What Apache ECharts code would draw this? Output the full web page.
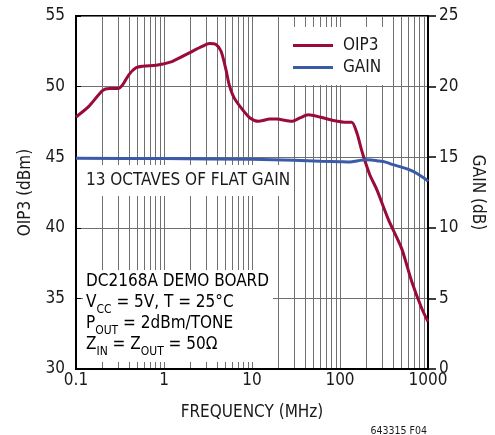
<!DOCTYPE html>
<html>
<head>
<meta charset="utf-8">
<script src="https://cdn.jsdelivr.net/npm/echarts@6/dist/echarts.min.js"></script>
<style>
  html, body { margin: 0; padding: 0; background: #fff; }
  #chart { width: 495px; height: 435px; }
</style>
</head>
<body>
<div id="chart"></div>
<script>
// ---- data ----
const oip3Freq = [0.1, 0.14, 0.2, 0.24, 0.3, 0.34, 0.4, 0.48, 0.57, 0.81, 0.97, 1.25, 1.94, 2.75, 3.28, 3.9, 4.45, 5.06, 5.5, 6.27, 7.8, 9.5, 11.8, 16, 19, 28.4, 35, 43.6, 58.8, 84, 119, 136, 156, 176, 193, 218, 262, 354, 500, 653, 848, 1000];
const oip3Val  = [47.85, 48.6, 49.72, 49.86, 49.86, 50.14, 50.85, 51.33, 51.44, 51.51, 51.6, 51.79, 52.39, 52.86, 53.05, 52.98, 52.5, 51.2, 50.14, 49.2, 48.37, 47.78, 47.54, 47.7, 47.7, 47.54, 47.78, 48.0, 47.85, 47.6, 47.47, 47.47, 46.7, 45.5, 44.7, 43.76, 42.7, 40.6, 38.56, 36.2, 34.3, 33.35];
const gainFreq = [0.1, 1, 10, 30, 60, 100, 130, 160, 193, 230, 262, 330, 400, 500, 620, 750, 960, 1000];
const gainVal  = [14.92, 14.9, 14.85, 14.78, 14.72, 14.68, 14.66, 14.75, 14.82, 14.8, 14.75, 14.65, 14.47, 14.3, 14.1, 13.85, 13.4, 13.28];
const minorGridFreq = [0.2, 0.3, 0.4, 0.5, 0.6, 0.7, 0.8, 0.9, 2, 3, 4, 5, 6, 7, 8, 9, 20, 30, 40, 50, 60, 70, 80, 90, 200, 300, 400, 500, 600, 700, 800, 900];
const xTickLabels = ['0.1', '1', '10', '100', '1000'];
const oip3Axis = { min: 30, max: 55, interval: 5 };
const gainAxis = { min: 0, max: 25, interval: 5 };

const FONT = "'DejaVu Sans Condensed', 'Liberation Sans Narrow', sans-serif";
const FS = 17;
const GRID = '#707070';
const RED = '#9a0b3b';
const BLUE = '#3b5ba9';
const TXT = '#1a1a1a';

const oip3Data = oip3Freq.map((f, i) => [f, oip3Val[i]]);
const gainData = gainFreq.map((f, i) => [f, gainVal[i]]);

const chart = echarts.init(document.getElementById('chart'), null, { renderer: 'canvas' });

const mainTok = { fontSize: FS, fontFamily: FONT, color: TXT, lineHeight: 22 };
const subTok = { fontSize: 12, fontFamily: FONT, color: TXT, lineHeight: 10, padding: [14, 0, 0, 0] };
function richLine(text, y) {
  return {
    type: 'text', x: 86, y: y, z: 3,
    style: {
      text: text, rich: { m: mainTok, s: subTok },
      verticalAlign: 'middle', textVerticalAlign: 'middle', align: 'left', textAlign: 'left'
    }
  };
}

chart.setOption({
  animation: false,
  textStyle: { fontFamily: FONT },
  grid: { left: 76, top: 16, width: 352, height: 353, show: true, borderColor: '#000', borderWidth: 2, backgroundColor: 'transparent' },
  legend: {
    data: ['OIP3', 'GAIN'],
    orient: 'vertical',
    left: 281, top: 27,
    backgroundColor: '#fff',
    padding: [9, 10, 8, 12],
    icon: 'rect',
    itemWidth: 40, itemHeight: 3, itemGap: 3,
    textStyle: { fontSize: FS, fontFamily: FONT, color: TXT, lineHeight: 19, padding: [0, 0, 0, 5] },
    selectedMode: false
  },
  xAxis: {
    type: 'log', logBase: 10, min: 0.1, max: 1000,
    axisLine: { show: true, onZero: false, lineStyle: { color: '#000', width: 2 } },
    axisTick: { show: false },
    splitLine: { show: true, lineStyle: { color: GRID, width: 1 } },
    axisLabel: {
      fontSize: FS, fontFamily: FONT, color: TXT, margin: 3,
      showMinLabel: true, showMaxLabel: true,
      formatter: function (v) {
        const e = Math.round(Math.log10(v));
        return xTickLabels[e + 1] !== undefined ? xTickLabels[e + 1] : '';
      }
    },
    name: 'FREQUENCY (MHz)', nameLocation: 'middle', nameGap: 35,
    nameTextStyle: { fontSize: FS, fontFamily: FONT, color: TXT }
  },
  yAxis: [
    {
      type: 'value', position: 'left', min: oip3Axis.min, max: oip3Axis.max, interval: oip3Axis.interval,
      axisLine: { show: true, lineStyle: { color: '#000', width: 2 } },
      axisTick: { show: true, inside: true, length: 5, lineStyle: { color: '#000' } },
      splitLine: { show: true, lineStyle: { color: GRID, width: 1 } },
      axisLabel: { fontSize: FS, fontFamily: FONT, color: TXT, margin: 11 },
      name: 'OIP3 (dBm)', nameLocation: 'middle', nameGap: 42, nameRotate: 90,
      nameTextStyle: { fontSize: FS, fontFamily: FONT, color: TXT }
    },
    {
      type: 'value', position: 'right', min: gainAxis.min, max: gainAxis.max, interval: gainAxis.interval,
      axisLine: { show: true, lineStyle: { color: '#000', width: 2 } },
      axisTick: { show: true, inside: false, length: 8, lineStyle: { color: '#000', width: 1.5 } },
      splitLine: { show: false },
      axisLabel: { fontSize: FS, fontFamily: FONT, color: TXT, margin: 11 },
      name: 'GAIN (dB)', nameLocation: 'middle', nameGap: 30, nameRotate: -90,
      nameTextStyle: { fontSize: FS, fontFamily: FONT, color: TXT }
    }
  ],
  graphic: [
    { type: 'rect', z: 1, shape: { x: 83, y: 165, width: 205, height: 31 }, style: { fill: '#fff' } },
    { type: 'rect', z: 1, shape: { x: 83, y: 270, width: 190, height: 92 }, style: { fill: '#fff' } },
    {
      type: 'text', x: 86, y: 181, z: 3,
      style: { text: '13 OCTAVES OF FLAT GAIN', fontSize: FS, fontFamily: FONT, fill: TXT,
               verticalAlign: 'middle', textVerticalAlign: 'middle' }
    },
    richLine('{m|DC2168A DEMO BOARD}', 281.5),
    richLine('{m|V}{s|CC}{m| = 5V, T = 25°C}', 302.5),
    richLine('{m|P}{s|OUT}{m| = 2dBm/TONE}', 323.5),
    richLine('{m|Z}{s|IN}{m| = Z}{s|OUT}{m| = 50Ω}', 344.5),
    {
      type: 'text', x: 427, y: 431, z: 3,
      style: { text: '643315 F04', fontSize: 10.5, fontFamily: FONT, fill: TXT,
               align: 'right', textAlign: 'right', verticalAlign: 'middle', textVerticalAlign: 'middle' }
    }
  ],
  series: [
    {
      name: 'minor-grid', type: 'line', z: 0, silent: true,
      data: [[0.1, 30]], showSymbol: false, symbol: 'none',
      lineStyle: { opacity: 0 },
      markLine: {
        z: 0, silent: true, symbol: ['none', 'none'], animation: false,
        label: { show: false },
        emphasis: { disabled: true },
        lineStyle: { color: GRID, width: 1, type: 'solid' },
        data: minorGridFreq.map(f => ({ xAxis: f }))
      }
    },
    {
      name: 'OIP3', type: 'line', yAxisIndex: 0, z: 5,
      data: oip3Data, symbol: 'none', smooth: 0.25,
      lineStyle: { color: RED, width: 3 }, itemStyle: { color: RED }
    },
    {
      name: 'GAIN', type: 'line', yAxisIndex: 1, z: 5,
      data: gainData, symbol: 'none', smooth: 0.3,
      lineStyle: { color: BLUE, width: 3 }, itemStyle: { color: BLUE }
    }
  ]
});
</script>
</body>
</html>
